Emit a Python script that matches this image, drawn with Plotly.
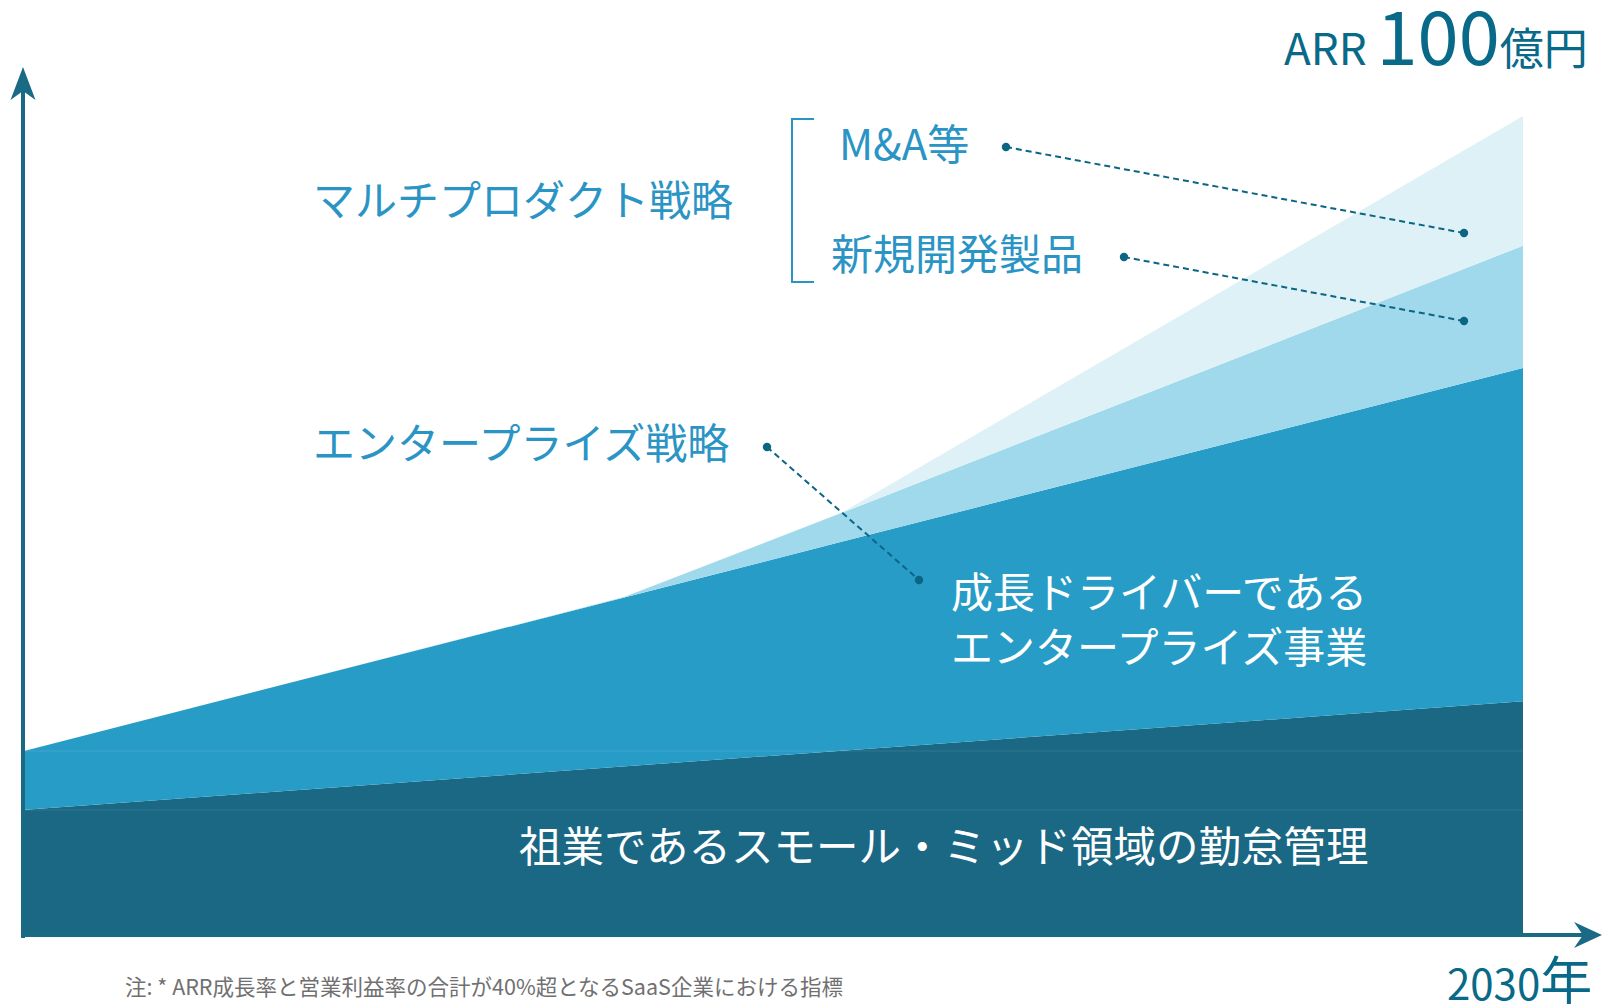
import plotly.graph_objects as go

# ---------------- data (ARR, 億円) ----------------
years = [2021, 2024.6, 2025.9, 2030]
core_smb = [15.5, 20.8, 22.7, 28.7]          # 祖業 (スモール・ミッド)
enterprise = [7.2, 20.6, 25.4, 40.6]         # エンタープライズ事業
new_products = [0.0, 0.0, 3.5, 14.9]         # 新規開発製品
m_and_a = [0.0, 0.0, 0.0, 15.8]              # M&A等

series_names = ["祖業", "エンタープライズ", "新規開発製品", "M&A等"]
series_values = [core_smb, enterprise, new_products, m_and_a]
series_colors = ["#1b6884", "#269cc7", "#9fd9eb", "#def1f7"]

title_main = "ARR"
title_value = "100"
title_unit = "億円"
end_label_year = "2030"
end_label_unit = "年"

W, H = 1602, 1004


def px(x):
    return x / W


def py(y):
    return 1 - y / H


fig = go.Figure()
for name, vals, col in zip(series_names, series_values, series_colors):
    fig.add_trace(go.Scatter(
        x=years, y=vals, name=name, mode="lines", stackgroup="arr",
        line=dict(width=0, color=col), fillcolor=col, hoverinfo="skip",
        showlegend=False,
    ))

AXIS = "#1b6a85"
LEAD = "#0b6683"
LABEL = "#2a94c4"
TITLE = "#086a88"

shapes = []
# faint seams inside the base bands
shapes.append(dict(type="line", xref="paper", yref="paper", x0=px(25), x1=px(1523),
                   y0=py(751), y1=py(751), line=dict(color="rgba(255,255,255,0.10)", width=1), layer="above"))
shapes.append(dict(type="line", xref="paper", yref="paper", x0=px(25), x1=px(1523),
                   y0=py(810), y1=py(810), line=dict(color="rgba(255,255,255,0.10)", width=1), layer="above"))

# axes with arrows
shapes.append(dict(type="line", xref="paper", yref="paper", x0=px(23), x1=px(23),
                   y0=py(938), y1=py(85), line=dict(color=AXIS, width=4)))
shapes.append(dict(type="path", xref="paper", yref="paper",
                   path=f"M {px(23)},{py(67)} L {px(35.5)},{py(100)} L {px(23)},{py(91)} L {px(10.5)},{py(100)} Z",
                   fillcolor=AXIS, line=dict(width=0)))
shapes.append(dict(type="line", xref="paper", yref="paper", x0=px(21), x1=px(1590),
                   y0=py(935), y1=py(935), line=dict(color=AXIS, width=4)))
shapes.append(dict(type="path", xref="paper", yref="paper",
                   path=f"M {px(1602)},{py(935)} L {px(1574)},{py(922)} L {px(1583)},{py(935)} L {px(1574)},{py(948)} Z",
                   fillcolor=AXIS, line=dict(width=0)))

# bracket
shapes.append(dict(type="path", xref="paper", yref="paper",
                   path=f"M {px(814)},{py(119)} L {px(792)},{py(119)} L {px(792)},{py(282)} L {px(814)},{py(282)}",
                   line=dict(color=LABEL, width=2)))

# leader lines with dots
leaders = [((1006, 147), (1464, 233)), ((1124, 257), (1464, 321)), ((767, 447), (919, 580))]
for (x0, y0), (x1, y1) in leaders:
    shapes.append(dict(type="line", xref="paper", yref="paper", x0=px(x0), y0=py(y0), x1=px(x1), y1=py(y1),
                       line=dict(color=LEAD, width=2, dash="6px,4px")))
    for (cx, cy) in ((x0, y0), (x1, y1)):
        r = 4.2
        shapes.append(dict(type="circle", xref="paper", yref="paper", x0=px(cx - r), x1=px(cx + r),
                           y0=py(cy - r), y1=py(cy + r), fillcolor=LEAD, line=dict(width=0)))

FONT = "Noto Sans CJK JP"
ann = []


def add_text(text, x, y, size, color, xanchor="left", yanchor="middle"):
    ann.append(dict(text=text, x=px(x), y=py(y), xref="paper", yref="paper", showarrow=False,
                    xanchor=xanchor, yanchor=yanchor, align=xanchor if xanchor != "center" else "center",
                    font=dict(family=FONT, size=size, color=color)))


add_text(f"{title_main} <span style='font-size:74px'>{title_value}</span>{title_unit}", 1590, 33, 44, TITLE,
         xanchor="right")
add_text("マルチプロダクト戦略", 311, 197, 42, LABEL)
add_text("エンタープライズ戦略", 311, 440, 42, LABEL)
add_text("M&A等", 837, 141, 42, LABEL)
add_text("新規開発製品", 829, 251, 42, LABEL)
add_text("成長ドライバーである<br>エンタープライズ事業", 1369, 617, 42, "white", xanchor="right")
add_text("祖業であるスモール・ミッド領域の勤怠管理", 1371, 843, 42.5, "white", xanchor="right")
add_text("注: * ARR成長率と営業利益率の合計が40%超となるSaaS企業における指標", 123, 985, 21.5, "#707070")
add_text(f"{end_label_year}<span style='font-size:52px'>{end_label_unit}</span>", 1594, 977, 42, TITLE,
         xanchor="right")

# map data to the canvas: x 2021 -> 25px, 2030 -> 1523px ; y 0 -> 937px, 100 -> 116px
x_per_px = 9 / 1498
y_per_px = 100 / 821
fig.update_layout(
    width=W, height=H, autosize=False,
    margin=dict(l=0, r=0, t=0, b=0),
    paper_bgcolor="white", plot_bgcolor="white",
    xaxis=dict(visible=False, range=[2021 - 25 * x_per_px, 2021 + (W - 25) * x_per_px], domain=[0, 1]),
    yaxis=dict(visible=False, range=[-(H - 937) * y_per_px, 937 * y_per_px], domain=[0, 1]),
    shapes=shapes, annotations=ann, showlegend=False,
)

fig.write_html("out.html")
